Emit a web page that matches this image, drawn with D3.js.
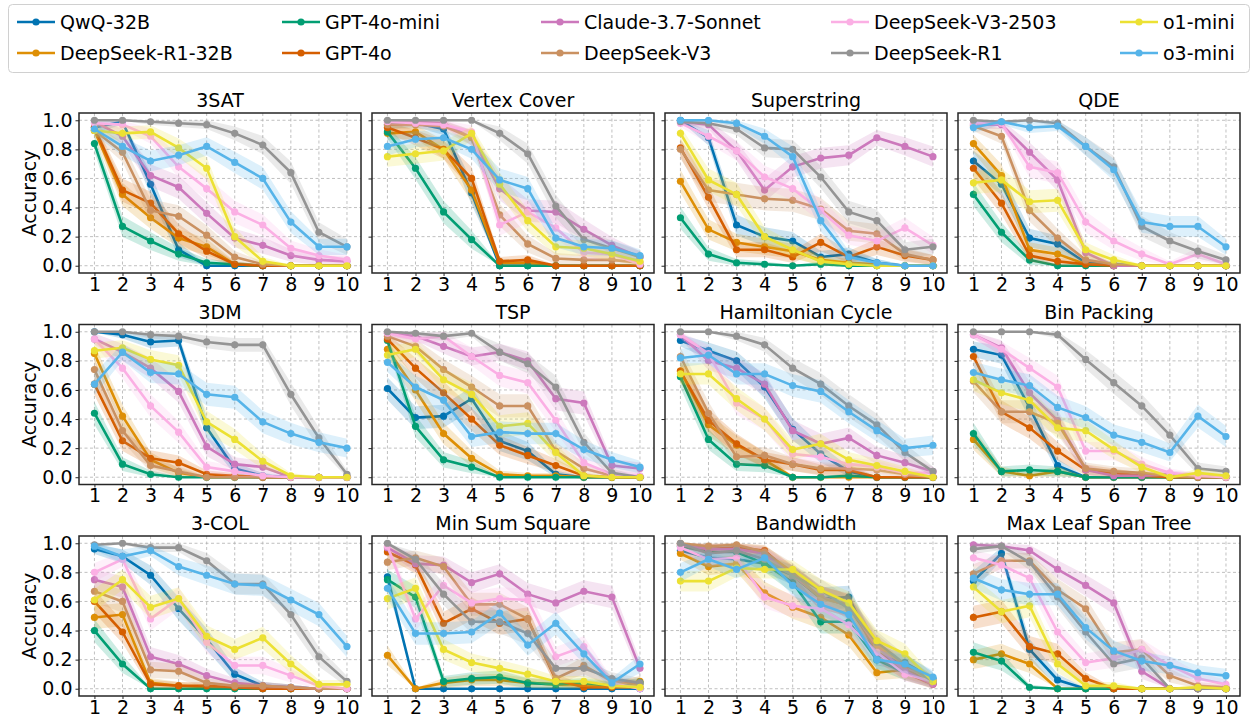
<!DOCTYPE html>
<html>
<head>
<meta charset="utf-8">
<script src="https://cdn.jsdelivr.net/npm/d3@7/dist/d3.min.js"></script>
<style>
  body { margin: 0; background: #fff; }
  text { font-family: "DejaVu Sans", sans-serif; }
</style>
</head>
<body>
<div id="chart"></div>
<script>
// models, in legend order (column-major)
const models = ["QwQ-32B", "DeepSeek-R1-32B", "GPT-4o-mini", "GPT-4o", "Claude-3.7-Sonnet",
  "DeepSeek-V3", "DeepSeek-V3-2503", "DeepSeek-R1", "o1-mini", "o3-mini"];
const colors = ["#0173b2", "#de8f05", "#029e73", "#d55e00", "#cc78bc",
  "#ca9161", "#fbafe4", "#949494", "#ece133", "#56b4e9"];
const levels = [1, 2, 3, 4, 5, 6, 7, 8, 9, 10];
const yTicks = [0, 0.2, 0.4, 0.6, 0.8, 1.0];
const tasks = ["3SAT", "Vertex Cover", "Superstring", "QDE", "3DM", "TSP",
  "Hamiltonian Cycle", "Bin Packing", "3-COL", "Min Sum Square", "Bandwidth", "Max Leaf Span Tree"];

// accuracy per model (rows follow `models`)
const acc3SAT = [
  [0.95, 0.99, 0.56, 0.11, 0.00, 0.00, 0.00, 0.00, 0.00, 0.00],
  [0.93, 0.49, 0.33, 0.19, 0.13, 0.01, 0.00, 0.00, 0.00, 0.00],
  [0.84, 0.27, 0.17, 0.08, 0.02, 0.01, 0.00, 0.00, 0.00, 0.00],
  [0.95, 0.52, 0.43, 0.22, 0.10, 0.01, 0.00, 0.00, 0.00, 0.00],
  [0.99, 0.89, 0.62, 0.54, 0.36, 0.19, 0.14, 0.07, 0.04, 0.03],
  [0.93, 0.78, 0.38, 0.34, 0.21, 0.06, 0.01, 0.00, 0.00, 0.00],
  [0.98, 0.97, 0.89, 0.68, 0.53, 0.37, 0.28, 0.12, 0.07, 0.04],
  [1.00, 1.00, 0.99, 0.98, 0.97, 0.91, 0.83, 0.64, 0.23, 0.13],
  [0.93, 0.91, 0.92, 0.81, 0.67, 0.20, 0.03, 0.00, 0.00, 0.00],
  [0.94, 0.82, 0.72, 0.76, 0.82, 0.71, 0.60, 0.30, 0.13, 0.13]
];
const accVertexCover = [
  [0.97, 0.98, 0.94, 0.50, 0.00, 0.00, 0.00, 0.00, 0.00, 0.00],
  [0.91, 0.92, 0.80, 0.52, 0.02, 0.02, 0.00, 0.00, 0.00, 0.00],
  [0.92, 0.67, 0.37, 0.18, 0.00, 0.00, 0.00, 0.00, 0.00, 0.00],
  [0.95, 0.88, 0.80, 0.60, 0.03, 0.04, 0.00, 0.00, 0.00, 0.00],
  [0.99, 0.99, 0.98, 0.88, 0.53, 0.38, 0.37, 0.25, 0.14, 0.06],
  [0.97, 0.97, 0.96, 0.88, 0.35, 0.15, 0.05, 0.04, 0.04, 0.02],
  [0.99, 0.98, 0.97, 0.92, 0.28, 0.37, 0.26, 0.09, 0.08, 0.01],
  [1.00, 1.00, 1.00, 1.00, 0.91, 0.77, 0.41, 0.18, 0.12, 0.06],
  [0.75, 0.77, 0.79, 0.91, 0.56, 0.31, 0.13, 0.12, 0.08, 0.03],
  [0.82, 0.87, 0.88, 0.80, 0.59, 0.53, 0.19, 0.13, 0.12, 0.07]
];
const accSuperstring = [
  [1.00, 0.88, 0.28, 0.20, 0.17, 0.06, 0.08, 0.02, 0.00, 0.00],
  [0.58, 0.25, 0.16, 0.13, 0.10, 0.04, 0.02, 0.01, 0.00, 0.00],
  [0.33, 0.08, 0.02, 0.01, 0.00, 0.01, 0.00, 0.00, 0.00, 0.00],
  [0.81, 0.47, 0.11, 0.11, 0.06, 0.16, 0.06, 0.13, 0.07, 0.04],
  [0.99, 0.97, 0.79, 0.52, 0.68, 0.74, 0.76, 0.88, 0.82, 0.75],
  [0.80, 0.52, 0.49, 0.46, 0.45, 0.39, 0.24, 0.22, 0.08, 0.04],
  [0.98, 0.89, 0.79, 0.61, 0.53, 0.38, 0.21, 0.17, 0.26, 0.14],
  [0.99, 0.98, 0.94, 0.81, 0.80, 0.61, 0.37, 0.31, 0.11, 0.13],
  [0.91, 0.59, 0.49, 0.20, 0.11, 0.03, 0.01, 0.00, 0.00, 0.00],
  [1.00, 1.00, 0.98, 0.89, 0.75, 0.31, 0.06, 0.02, 0.00, 0.00]
];
const accQDE = [
  [0.72, 0.56, 0.19, 0.15, 0.02, 0.01, 0.00, 0.00, 0.00, 0.00],
  [0.84, 0.62, 0.11, 0.08, 0.01, 0.00, 0.00, 0.00, 0.00, 0.00],
  [0.49, 0.23, 0.04, 0.00, 0.00, 0.00, 0.00, 0.00, 0.00, 0.00],
  [0.67, 0.43, 0.07, 0.03, 0.01, 0.00, 0.00, 0.00, 0.00, 0.00],
  [0.97, 0.97, 0.78, 0.59, 0.09, 0.00, 0.00, 0.00, 0.00, 0.00],
  [0.96, 0.89, 0.38, 0.19, 0.04, 0.01, 0.00, 0.00, 0.00, 0.00],
  [0.98, 0.98, 0.68, 0.64, 0.30, 0.17, 0.08, 0.01, 0.08, 0.01],
  [1.00, 0.99, 1.00, 0.98, 0.82, 0.68, 0.27, 0.17, 0.10, 0.04],
  [0.57, 0.59, 0.44, 0.45, 0.11, 0.04, 0.00, 0.00, 0.00, 0.00],
  [0.95, 0.99, 0.95, 0.96, 0.82, 0.66, 0.30, 0.27, 0.27, 0.13]
];
const acc3DM = [
  [1.00, 0.98, 0.93, 0.94, 0.34, 0.06, 0.01, 0.00, 0.00, 0.00],
  [0.85, 0.42, 0.12, 0.03, 0.00, 0.00, 0.00, 0.00, 0.00, 0.00],
  [0.44, 0.09, 0.02, 0.00, 0.00, 0.00, 0.00, 0.00, 0.00, 0.00],
  [0.64, 0.25, 0.13, 0.10, 0.02, 0.01, 0.00, 0.00, 0.00, 0.00],
  [0.95, 0.86, 0.75, 0.59, 0.21, 0.09, 0.07, 0.00, 0.00, 0.00],
  [0.74, 0.32, 0.08, 0.04, 0.00, 0.00, 0.00, 0.00, 0.00, 0.00],
  [0.95, 0.75, 0.49, 0.31, 0.07, 0.04, 0.01, 0.00, 0.00, 0.00],
  [1.00, 1.00, 0.98, 0.97, 0.93, 0.91, 0.91, 0.57, 0.27, 0.02],
  [0.87, 0.89, 0.81, 0.77, 0.38, 0.26, 0.11, 0.01, 0.00, 0.00],
  [0.64, 0.86, 0.72, 0.71, 0.57, 0.55, 0.38, 0.30, 0.24, 0.20]
];
const accTSP = [
  [0.61, 0.41, 0.42, 0.54, 0.25, 0.18, 0.02, 0.00, 0.00, 0.00],
  [0.88, 0.60, 0.30, 0.13, 0.02, 0.01, 0.01, 0.00, 0.00, 0.00],
  [0.94, 0.35, 0.12, 0.07, 0.00, 0.00, 0.00, 0.00, 0.00, 0.00],
  [0.95, 0.75, 0.58, 0.40, 0.22, 0.15, 0.08, 0.01, 0.00, 0.00],
  [0.99, 0.97, 0.90, 0.83, 0.86, 0.80, 0.54, 0.51, 0.08, 0.06],
  [0.97, 0.90, 0.74, 0.62, 0.49, 0.49, 0.18, 0.06, 0.01, 0.00],
  [0.99, 0.95, 0.97, 0.83, 0.70, 0.65, 0.39, 0.10, 0.02, 0.01],
  [1.00, 0.99, 0.97, 0.99, 0.86, 0.78, 0.62, 0.24, 0.03, 0.00],
  [0.84, 0.88, 0.67, 0.57, 0.35, 0.37, 0.17, 0.01, 0.00, 0.00],
  [0.79, 0.62, 0.53, 0.28, 0.31, 0.30, 0.30, 0.19, 0.12, 0.07]
];
const accHamiltonian = [
  [0.94, 0.87, 0.80, 0.62, 0.33, 0.16, 0.04, 0.00, 0.00, 0.00],
  [0.73, 0.36, 0.22, 0.12, 0.00, 0.00, 0.00, 0.00, 0.00, 0.00],
  [0.69, 0.26, 0.09, 0.08, 0.00, 0.00, 0.01, 0.00, 0.00, 0.00],
  [0.73, 0.39, 0.23, 0.12, 0.09, 0.05, 0.05, 0.00, 0.00, 0.00],
  [0.98, 0.80, 0.75, 0.64, 0.32, 0.23, 0.27, 0.15, 0.10, 0.04],
  [0.83, 0.44, 0.14, 0.15, 0.09, 0.06, 0.06, 0.05, 0.02, 0.00],
  [0.98, 0.85, 0.51, 0.40, 0.16, 0.14, 0.09, 0.07, 0.03, 0.03],
  [1.00, 1.00, 0.97, 0.91, 0.75, 0.64, 0.49, 0.36, 0.17, 0.04],
  [0.71, 0.71, 0.54, 0.40, 0.19, 0.23, 0.12, 0.08, 0.04, 0.00],
  [0.82, 0.84, 0.71, 0.71, 0.63, 0.59, 0.45, 0.32, 0.20, 0.22]
];
const accBinPacking = [
  [0.88, 0.84, 0.48, 0.08, 0.00, 0.00, 0.00, 0.00, 0.00, 0.00],
  [0.26, 0.04, 0.01, 0.04, 0.00, 0.00, 0.00, 0.00, 0.00, 0.00],
  [0.30, 0.04, 0.05, 0.04, 0.00, 0.00, 0.00, 0.00, 0.00, 0.00],
  [0.83, 0.45, 0.34, 0.18, 0.05, 0.03, 0.01, 0.00, 0.00, 0.00],
  [0.98, 0.89, 0.58, 0.39, 0.05, 0.01, 0.01, 0.02, 0.01, 0.00],
  [0.66, 0.45, 0.45, 0.37, 0.06, 0.04, 0.03, 0.01, 0.00, 0.00],
  [0.98, 0.88, 0.75, 0.62, 0.18, 0.18, 0.09, 0.03, 0.01, 0.00],
  [1.00, 1.00, 1.00, 0.98, 0.81, 0.65, 0.49, 0.29, 0.06, 0.04],
  [0.67, 0.58, 0.53, 0.34, 0.32, 0.19, 0.07, 0.00, 0.03, 0.01],
  [0.72, 0.67, 0.63, 0.48, 0.41, 0.29, 0.24, 0.17, 0.42, 0.28]
];
const acc3COL = [
  [0.96, 0.91, 0.78, 0.55, 0.34, 0.10, 0.02, 0.01, 0.00, 0.00],
  [0.49, 0.51, 0.04, 0.02, 0.01, 0.01, 0.01, 0.00, 0.00, 0.00],
  [0.40, 0.17, 0.00, 0.00, 0.00, 0.00, 0.00, 0.00, 0.00, 0.00],
  [0.60, 0.39, 0.03, 0.02, 0.02, 0.01, 0.00, 0.00, 0.00, 0.00],
  [0.75, 0.70, 0.22, 0.17, 0.09, 0.04, 0.02, 0.01, 0.00, 0.00],
  [0.67, 0.60, 0.13, 0.12, 0.04, 0.02, 0.02, 0.01, 0.00, 0.00],
  [0.80, 0.89, 0.48, 0.62, 0.32, 0.16, 0.16, 0.09, 0.02, 0.00],
  [0.99, 1.00, 0.97, 0.97, 0.88, 0.72, 0.72, 0.51, 0.22, 0.05],
  [0.61, 0.75, 0.56, 0.62, 0.36, 0.27, 0.35, 0.17, 0.03, 0.03],
  [0.98, 0.91, 0.95, 0.84, 0.78, 0.72, 0.71, 0.61, 0.51, 0.29]
];
const accMinSumSquare = [
  [0.77, 0.00, 0.00, 0.00, 0.00, 0.00, 0.00, 0.00, 0.00, 0.00],
  [0.23, 0.00, 0.04, 0.06, 0.06, 0.04, 0.03, 0.03, 0.02, 0.05],
  [0.75, 0.63, 0.05, 0.07, 0.08, 0.04, 0.03, 0.04, 0.02, 0.04],
  [0.94, 0.85, 0.45, 0.55, 0.45, 0.48, 0.06, 0.01, 0.01, 0.01],
  [0.97, 0.86, 0.85, 0.73, 0.79, 0.65, 0.59, 0.67, 0.63, 0.14],
  [0.87, 0.90, 0.84, 0.58, 0.58, 0.48, 0.07, 0.16, 0.05, 0.03],
  [0.98, 0.48, 0.71, 0.59, 0.62, 0.61, 0.22, 0.29, 0.04, 0.00],
  [1.00, 0.89, 0.65, 0.46, 0.46, 0.38, 0.14, 0.14, 0.07, 0.04],
  [0.62, 0.69, 0.27, 0.18, 0.14, 0.10, 0.05, 0.05, 0.02, 0.01],
  [0.69, 0.38, 0.38, 0.39, 0.52, 0.30, 0.45, 0.24, 0.04, 0.17]
];
const accBandwidth = [
  [0.95, 0.90, 0.89, 0.86, 0.78, 0.62, 0.63, 0.23, 0.18, 0.07],
  [0.93, 0.84, 0.86, 0.66, 0.56, 0.49, 0.37, 0.11, 0.13, 0.05],
  [0.98, 0.94, 0.94, 0.86, 0.73, 0.46, 0.46, 0.20, 0.11, 0.04],
  [0.99, 0.96, 0.97, 0.95, 0.78, 0.63, 0.57, 0.26, 0.11, 0.03],
  [0.99, 0.96, 0.96, 0.93, 0.78, 0.63, 0.57, 0.29, 0.12, 0.03],
  [1.00, 0.98, 0.99, 0.94, 0.80, 0.62, 0.58, 0.30, 0.16, 0.05],
  [0.97, 0.89, 0.90, 0.63, 0.57, 0.55, 0.44, 0.25, 0.10, 0.05],
  [1.00, 0.93, 0.95, 0.89, 0.78, 0.68, 0.55, 0.32, 0.17, 0.05],
  [0.74, 0.74, 0.83, 0.82, 0.82, 0.68, 0.59, 0.33, 0.24, 0.05],
  [0.80, 0.89, 0.82, 0.90, 0.71, 0.58, 0.51, 0.20, 0.17, 0.08]
];
const accMaxLeaf = [
  [0.74, 0.93, 0.27, 0.06, 0.00, 0.00, 0.00, 0.00, 0.00, 0.00],
  [0.20, 0.24, 0.17, 0.00, 0.00, 0.00, 0.00, 0.00, 0.00, 0.00],
  [0.25, 0.19, 0.01, 0.00, 0.00, 0.00, 0.00, 0.00, 0.00, 0.00],
  [0.49, 0.53, 0.29, 0.24, 0.07, 0.00, 0.00, 0.00, 0.00, 0.00],
  [0.99, 0.98, 0.95, 0.82, 0.71, 0.59, 0.12, 0.00, 0.00, 0.00],
  [0.79, 0.88, 0.88, 0.68, 0.55, 0.25, 0.27, 0.09, 0.02, 0.01],
  [0.90, 0.85, 0.76, 0.39, 0.18, 0.21, 0.27, 0.16, 0.07, 0.03],
  [0.96, 0.98, 0.87, 0.63, 0.39, 0.17, 0.21, 0.00, 0.00, 0.00],
  [0.70, 0.53, 0.57, 0.17, 0.02, 0.02, 0.00, 0.00, 0.01, 0.00],
  [0.76, 0.68, 0.65, 0.65, 0.42, 0.26, 0.19, 0.16, 0.11, 0.09]
];
const taskData = [acc3SAT, accVertexCover, accSuperstring, accQDE, acc3DM, accTSP,
  accHamiltonian, accBinPacking, acc3COL, accMinSumSquare, accBandwidth, accMaxLeaf];
// half-width of the shaded band relative to binomial spread
const bandK = 0.15;

const W = 1253, H = 719;
const svg = d3.select("#chart").append("svg")
  .attr("width", W).attr("height", H)
  .style("background", "#fff");

// panel geometry
const panelLeft = 79, panelTop = 113, colStep = 293, rowStep = 211.5;
const pw = 282, ph = 160;
const fs = 19;

tasks.forEach(function(task, i) {
  const col = i % 4, row = Math.floor(i / 4);
  const left = panelLeft + col * colStep, top = panelTop + row * rowStep;
  const x = d3.scaleLinear().domain([0.45, 10.5]).range([left, left + pw]);
  const y = d3.scaleLinear().domain([-0.05, 1.05]).range([top + ph, top]);
  const g = svg.append("g");

  // grid
  g.append("g").selectAll("line.gx").data(levels).enter().append("line")
    .attr("x1", d => x(d)).attr("x2", d => x(d))
    .attr("y1", top).attr("y2", top + ph)
    .attr("stroke", "#b0b0b0").attr("stroke-width", 0.8).attr("stroke-dasharray", "3,2.5");
  g.append("g").selectAll("line.gy").data(yTicks).enter().append("line")
    .attr("x1", left).attr("x2", left + pw)
    .attr("y1", d => y(d)).attr("y2", d => y(d))
    .attr("stroke", "#b0b0b0").attr("stroke-width", 0.8).attr("stroke-dasharray", "3,2.5");

  const clipId = "clip" + i;
  g.append("clipPath").attr("id", clipId).append("rect")
    .attr("x", left).attr("y", top).attr("width", pw).attr("height", ph);
  const plot = g.append("g").attr("clip-path", "url(#" + clipId + ")");

  const series = taskData[i];
  const line = d3.line().x((d, j) => x(levels[j])).y(d => y(d));
  const area = d3.area()
    .x((d, j) => x(levels[j]))
    .y0(d => y(Math.max(0, d - bandK * Math.sqrt(d * (1 - d)) - 0.005)))
    .y1(d => y(Math.min(1, d + bandK * Math.sqrt(d * (1 - d)) + 0.005)));

  series.forEach(function(vals, m) {
    plot.append("path").datum(vals)
      .attr("d", area).attr("fill", colors[m]).attr("fill-opacity", 0.2);
    plot.append("path").datum(vals)
      .attr("d", line).attr("fill", "none")
      .attr("stroke", colors[m]).attr("stroke-width", 2.6);
    plot.append("g").selectAll("circle").data(vals).enter().append("circle")
      .attr("cx", (d, j) => x(levels[j])).attr("cy", d => y(d))
      .attr("r", 3.6).attr("fill", colors[m]);
  });

  // frame
  g.append("rect").attr("x", left).attr("y", top).attr("width", pw).attr("height", ph)
    .attr("fill", "none").attr("stroke", "#262626").attr("stroke-width", 1.5);

  // x axis
  const xa = g.append("g").attr("transform", "translate(0," + (top + ph) + ")")
    .call(d3.axisBottom(x).tickValues(levels).tickSize(3).tickPadding(1));
  xa.select(".domain").remove();
  xa.selectAll("text").style("font-size", fs + "px").attr("fill", "#000");
  xa.selectAll("line").attr("stroke", "#262626");

  // y axis
  const ya = g.append("g").attr("transform", "translate(" + left + ",0)")
    .call(d3.axisLeft(y).tickValues(yTicks).tickSize(3.5).tickPadding(3)
      .tickFormat(col === 0 ? d3.format(".1f") : ""));
  ya.select(".domain").remove();
  ya.selectAll("text").style("font-size", fs + "px").attr("fill", "#000");
  ya.selectAll("line").attr("stroke", "#262626");

  if (col === 0) {
    g.append("text")
      .attr("transform", "translate(" + (left - 43) + "," + (top + ph / 2) + ") rotate(-90)")
      .attr("text-anchor", "middle")
      .style("font-size", fs + "px")
      .text("Accuracy");
  }

  // title
  g.append("text")
    .attr("x", left + pw / 2).attr("y", top - 6)
    .attr("text-anchor", "middle")
    .style("font-size", fs + "px")
    .text(task);
});

// legend
const legend = svg.append("g");
legend.append("rect")
  .attr("x", 8.5).attr("y", 4.5).attr("width", 1241).attr("height", 68)
  .attr("rx", 4).attr("fill", "#fff").attr("stroke", "#d0d0d0").attr("stroke-width", 1);
const legendCols = [17, 282, 541, 831, 1120];
const legendRows = [22, 53];
models.forEach(function(name, m) {
  const cx = legendCols[Math.floor(m / 2)], cy = legendRows[m % 2];
  legend.append("line")
    .attr("x1", cx).attr("x2", cx + 38).attr("y1", cy).attr("y2", cy)
    .attr("stroke", colors[m]).attr("stroke-width", 2.6);
  legend.append("circle").attr("cx", cx + 19).attr("cy", cy).attr("r", 3.6).attr("fill", colors[m]);
  legend.append("text")
    .attr("x", cx + 43).attr("y", cy + 7)
    .style("font-size", fs + "px")
    .text(name);
});
</script>
</body>
</html>
